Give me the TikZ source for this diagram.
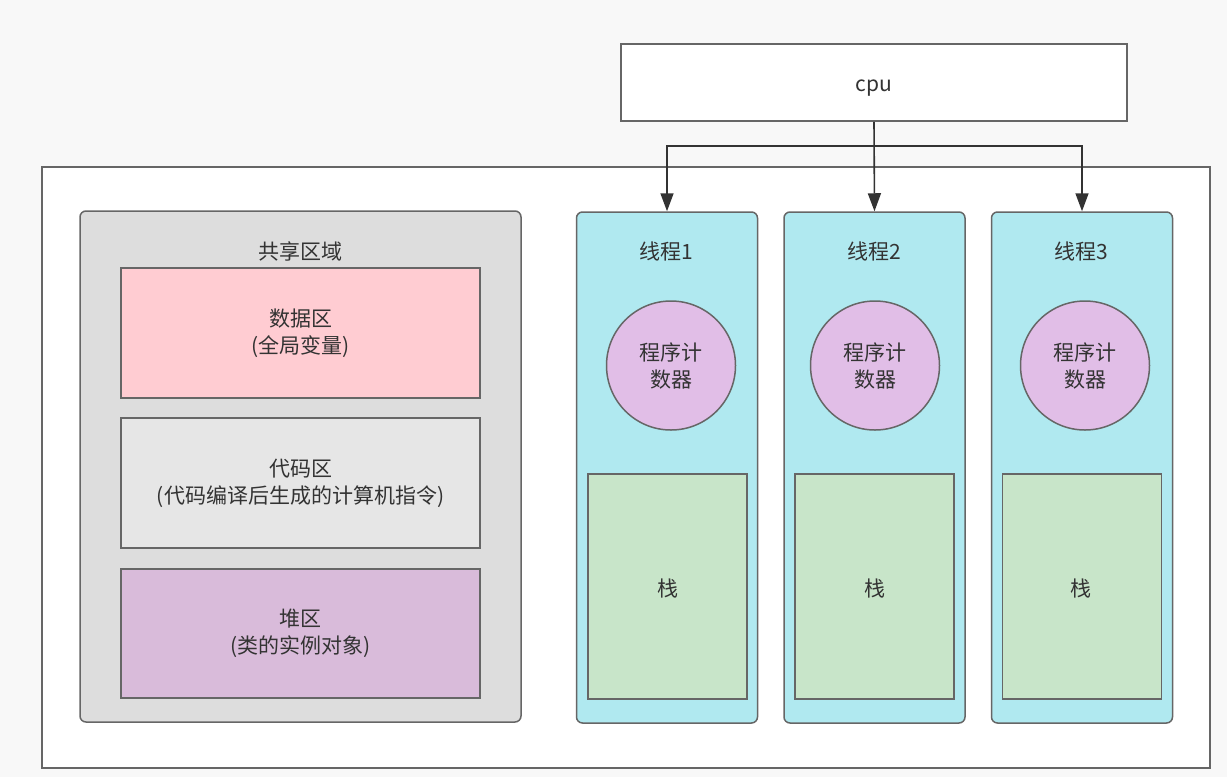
\documentclass[tikz,border=0pt]{standalone}
\usepackage{fontspec}
\setmainfont{Noto Sans CJK SC}
\usetikzlibrary{arrows.meta}
\definecolor{bgc}{HTML}{F8F8F8}
\definecolor{strk}{HTML}{666666}
\definecolor{txt}{HTML}{333333}
\definecolor{sharedc}{HTML}{DDDDDD}
\definecolor{datac}{HTML}{FFCCD2}
\definecolor{codec}{HTML}{E6E6E6}
\definecolor{heapc}{HTML}{D9BBDA}
\definecolor{threadc}{HTML}{B0E9F0}
\definecolor{pcc}{HTML}{E1BEE7}
\definecolor{stackc}{HTML}{C8E5C9}
\tikzset{
  base/.style={draw=strk, line width=1.5pt, text=txt, font=\fontsize{21}{27}\selectfont, align=center, inner sep=0pt},
  box/.style={base, rectangle},
  rbox/.style={base, rectangle, rounded corners=6pt},
  lbl/.style={text=txt, font=\fontsize{21}{27}\selectfont, inner sep=0pt},
  pcnode/.style={base, circle, fill=pcc, minimum size=129pt},
  stackbox/.style={box, fill=stackc, minimum width=159pt, minimum height=225pt},
  threadbox/.style={rbox, fill=threadc, minimum width=181pt, minimum height=511pt},
  arr/.style={draw=txt, line width=1.6pt, -{Triangle[length=18pt, width=13pt]}},
}
\begin{document}
\begin{tikzpicture}[x=1pt, y=-1pt]
\fill[bgc] (0,0) rectangle (1227,777);
\useasboundingbox (0,0) rectangle (1227,777);
% outer frame
\node[box, fill=white, minimum width=1168pt, minimum height=601pt] (outer) at (626,467.5) {};
% cpu
\node[box, fill=white, minimum width=506pt, minimum height=77pt] (cpu) at (874,82.5) {};
\node[lbl, anchor=base] (cpulbl) at (874,91) {cpu};
% shared region
\node[rbox, fill=sharedc, minimum width=441pt, minimum height=511pt] (shared) at (300.5,466.5) {};
\node[lbl] (sharedlbl) at (300.5,251) {共享区域};
\node[box, fill=datac, minimum width=359pt, minimum height=130pt] (data) at (300.5,333) {数据区\\(全局变量)};
\node[box, fill=codec, minimum width=359pt, minimum height=130pt] (code) at (300.5,483) {代码区\\(代码编译后生成的计算机指令)};
\node[box, fill=heapc, minimum width=359pt, minimum height=129pt] (heap) at (300.5,633.5) {堆区\\(类的实例对象)};
% threads
\node[threadbox] (t1) at (667,467.5) {};
\node[threadbox] (t2) at (874.5,467.5) {};
\node[threadbox] (t3) at (1082,467.5) {};
\node[lbl] (t1lbl) at (666,251) {线程1};
\node[lbl] (t2lbl) at (874,251) {线程2};
\node[lbl] (t3lbl) at (1081,251) {线程3};
\node[pcnode] (pc1) at (671,365.5) {程序计\\数器};
\node[pcnode] (pc2) at (875,365.5) {程序计\\数器};
\node[pcnode] (pc3) at (1085,365.5) {程序计\\数器};
\node[stackbox] (s1) at (667.5,586.5) {};
\node[stackbox] (s2) at (874.5,586.5) {};
\node[stackbox] (s3) at (1082,586.5) {};
\node[lbl] (s1lbl) at (667.5,589) {栈};
\node[lbl] (s2lbl) at (874.5,589) {栈};
\node[lbl] (s3lbl) at (1081,589) {栈};
% connectors
\coordinate (split) at ([yshift=-24pt]cpu.south);
\draw[arr] (cpu.south) -- (t2.north);
\draw[arr] (split) -| (t1.north);
\draw[arr] (split) -| (t3.north);
\end{tikzpicture}
\end{document}
